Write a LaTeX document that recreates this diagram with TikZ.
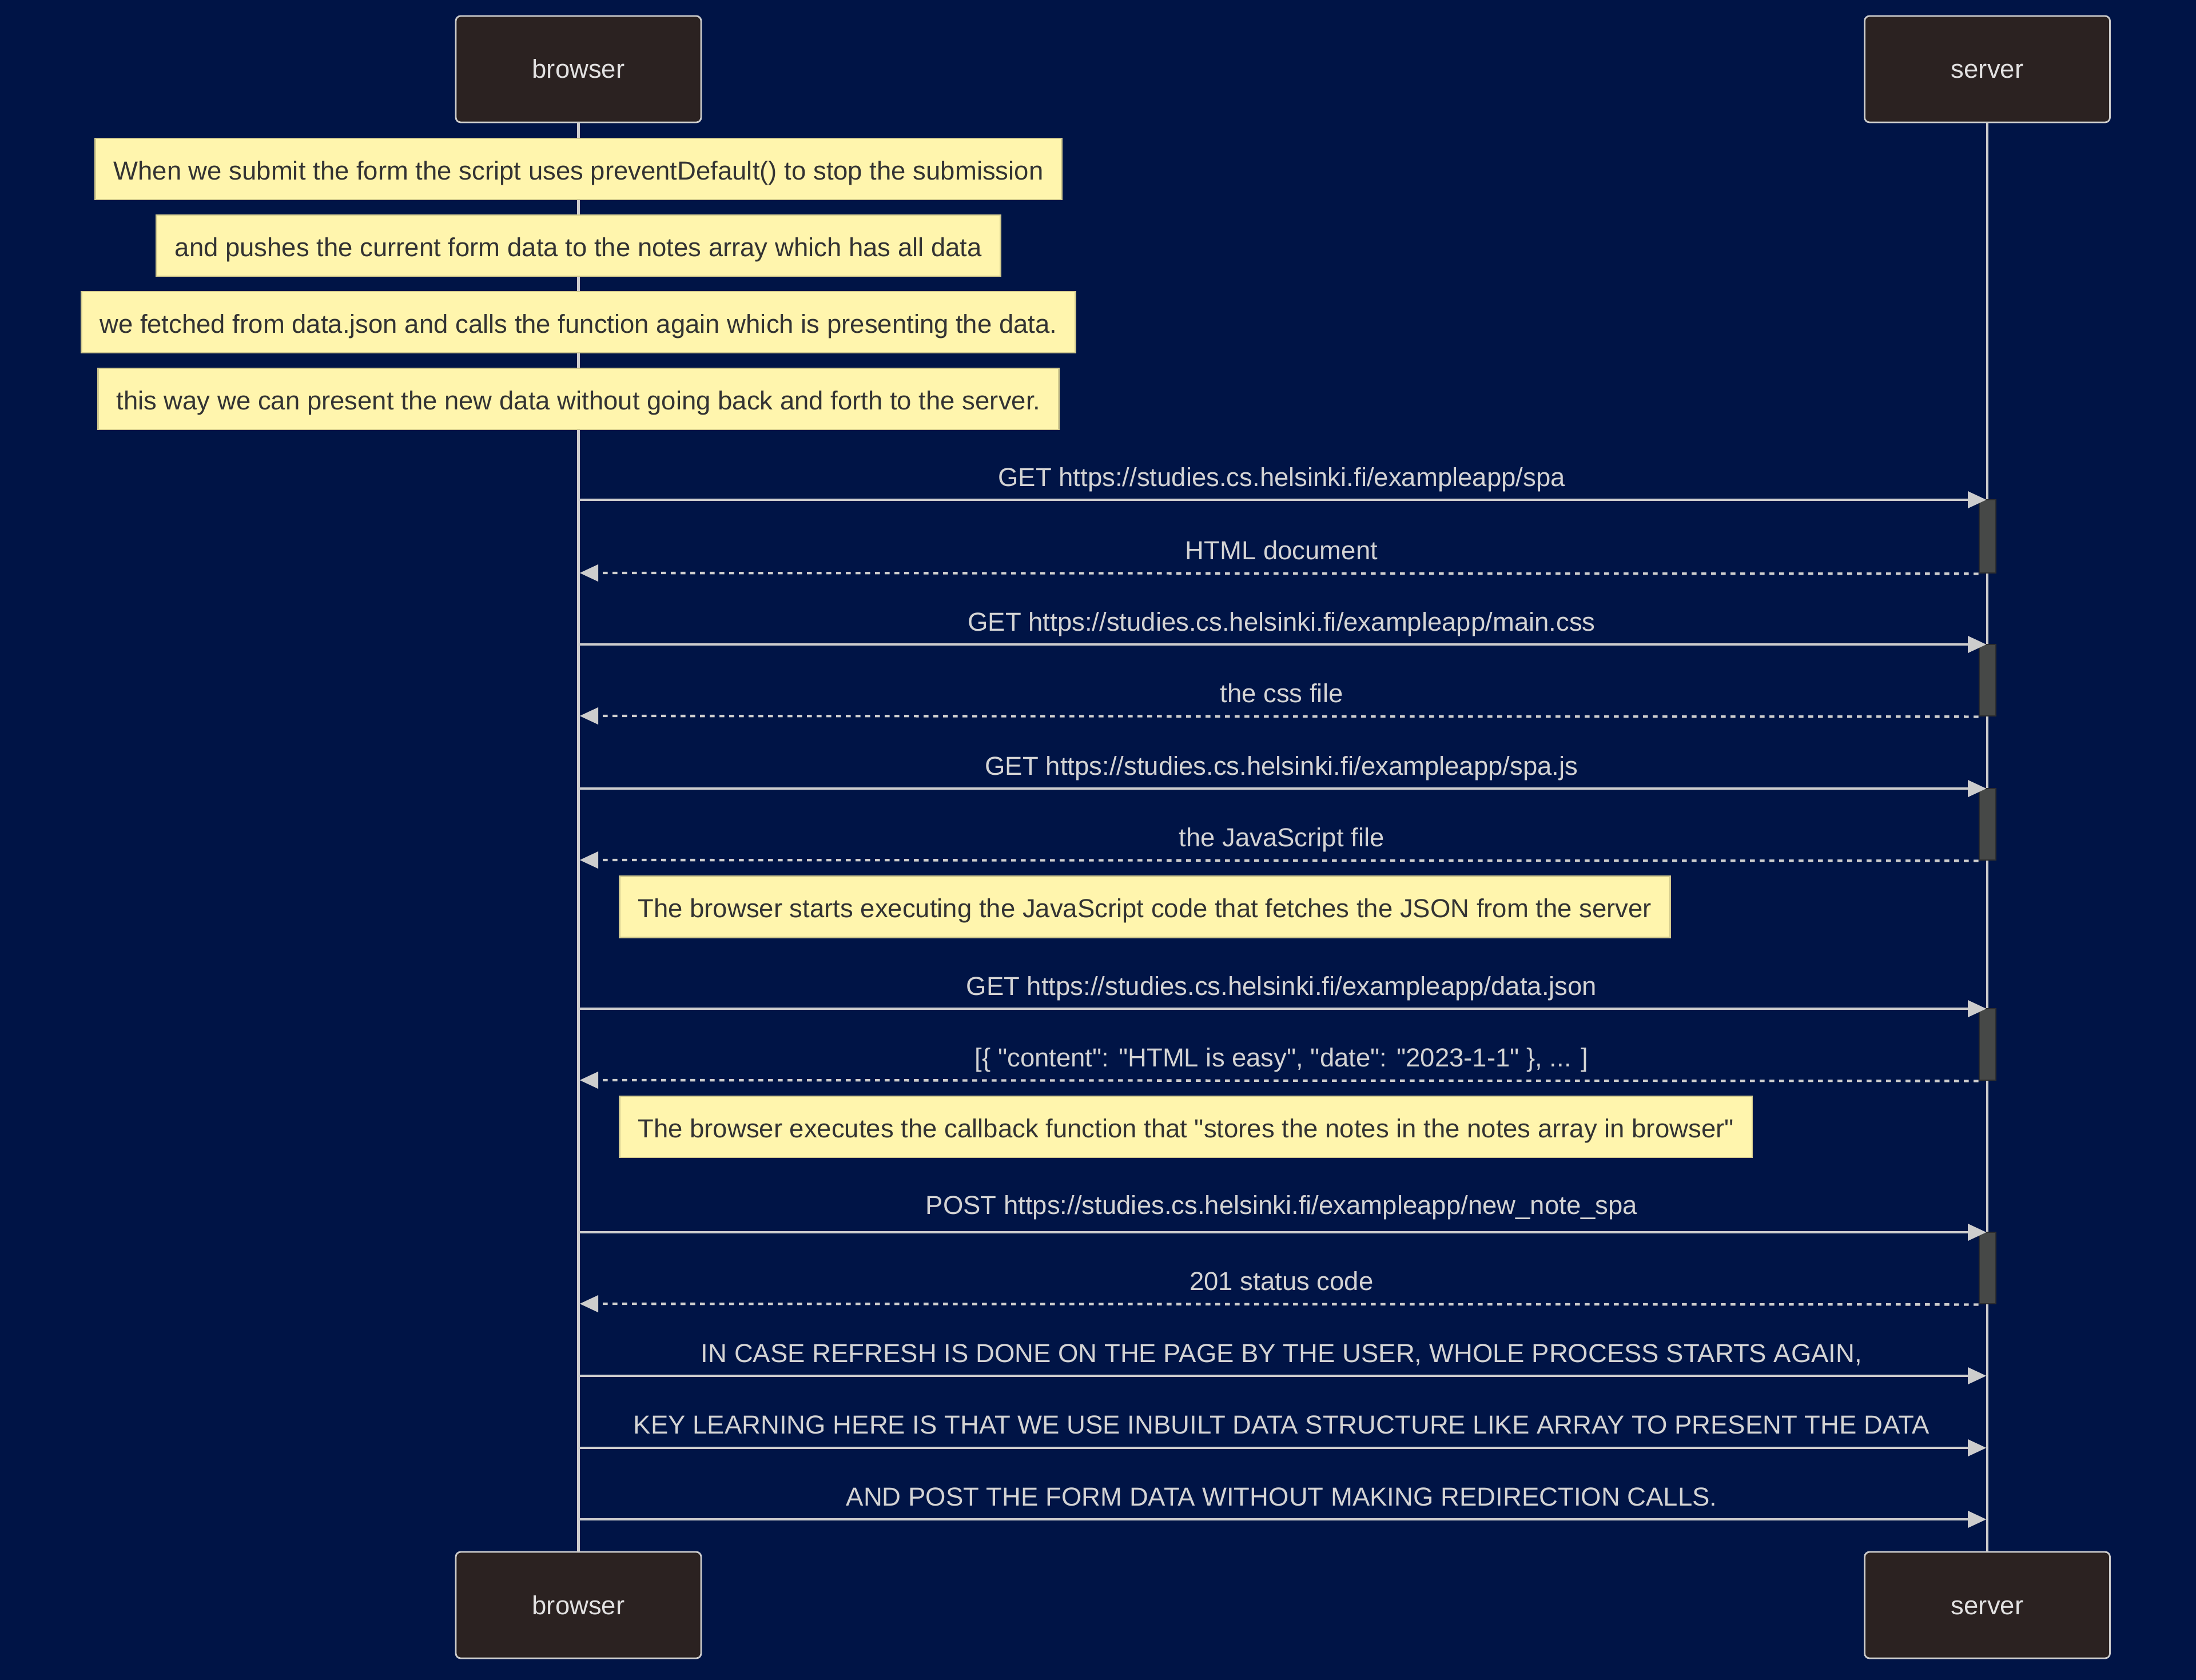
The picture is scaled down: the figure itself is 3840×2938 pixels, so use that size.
\documentclass[tikz,border=0pt]{standalone}
\usepackage{fontspec}
\newfontfamily\lsans{Liberation Sans}[Ligatures=NoCommon]
\usetikzlibrary{arrows.meta}
\definecolor{bgc}{HTML}{001446}
\definecolor{actfill}{HTML}{2B2221}
\definecolor{actline}{HTML}{CCCCCC}
\definecolor{acttext}{HTML}{E2E1E1}
\definecolor{msgline}{HTML}{CDCDCD}
\definecolor{msgtext}{HTML}{D4D4D4}
\definecolor{notefill}{HTML}{FFF5AD}
\definecolor{noteline}{HTML}{D2CA8E}
\definecolor{notetext}{HTML}{333333}
\definecolor{barfill}{HTML}{464847}
\definecolor{barline}{HTML}{2E2E2E}
\newcommand{\dfont}{\lsans\fontsize{45.5}{54}\selectfont}
\tikzset{
  actorbox/.style={draw=actline, fill=actfill, line width=2.8pt, rounded corners=8.6pt,
    minimum width=429pt, minimum height=186pt, inner sep=0pt, text=acttext, font=\dfont,
    text height=38pt, text depth=6pt},
  lifeline/.style={draw=msgline, line width=4.5pt},
  notebox/.style={draw=noteline, fill=notefill, line width=2.8pt, inner xsep=32pt, inner ysep=0pt,
    minimum height=107pt, text=notetext, font=\dfont, text height=43pt, text depth=6pt},
  actbar/.style={draw=barline, fill=barfill, line width=2.8pt, minimum width=29pt, inner sep=0pt},
  msg/.style={draw=msgline, line width=4.3pt, -{Triangle[length=32pt,width=30pt,line width=0.1pt]}},
  reply/.style={msg, dash pattern=on 8.5pt off 8.5pt},
  msglabel/.style={anchor=base, inner sep=0pt, text=msgtext, font=\dfont}
}
\begin{document}
\begin{tikzpicture}[x=1pt,y=-1pt]
\fill[bgc] (0,0) rectangle (3840,2938);
\useasboundingbox (0,0) rectangle (3840,2938);

% actors
\node[actorbox] (bt) at (1011.5,121) {browser};
\node[actorbox] (st) at (3475,121) {server};
\node[actorbox] (bb) at (1011.5,2807) {browser};
\node[actorbox] (sb) at (3475,2807) {server};

% lifelines
\draw[lifeline] (bt.south) -- (bb.north);
\draw[lifeline] (st.south) -- (sb.north);

% top notes
\node[notebox] (n1) at (1011.5,295.5) {When we submit the form the script uses preventDefault() to stop the submission};
\node[notebox] (n2) at (1011.5,429.5) {and pushes the current form data to the notes array which has all data};
\node[notebox] (n3) at (1011.5,563.5) {we fetched from data.json and calls the function again which is presenting the data.};
\node[notebox] (n4) at (1011.5,697.5) {this way we can present the new data without going back and forth to the server.};

% activation bars
\node[actbar, minimum height=128pt] (a1) at (3475.5,938) {};
\node[actbar, minimum height=125pt] (a2) at (3475.5,1189.5) {};
\node[actbar, minimum height=125pt] (a3) at (3475.5,1441.5) {};
\node[actbar, minimum height=125pt] (a4) at (3475.5,1826.5) {};
\node[actbar, minimum height=125pt] (a5) at (3475.5,2217.5) {};

% endpoint coordinates
\coordinate (b1) at (1011.5,874);   \coordinate (s1) at (3473,874);
\coordinate (b2) at (1014,1002);
\coordinate (b3) at (1011.5,1127);  \coordinate (s3) at (3473,1127);
\coordinate (b4) at (1014,1252);
\coordinate (b5) at (1011.5,1379);  \coordinate (s5) at (3473,1379);
\coordinate (b6) at (1014,1504);
\coordinate (b7) at (1011.5,1764);  \coordinate (s7) at (3473,1764);
\coordinate (b8) at (1014,1889);
\coordinate (b9) at (1011.5,2155);  \coordinate (s9) at (3473,2155);
\coordinate (b10) at (1014,2280);
\coordinate (b11) at (1011.5,2406); \coordinate (s11) at (3473,2406);
\coordinate (b12) at (1011.5,2532); \coordinate (s12) at (3473,2532);
\coordinate (b13) at (1011.5,2657); \coordinate (s13) at (3473,2657);

% messages
\draw[msg] (b1) -- (s1);
\node[msglabel] (l1) at (2241,850) {GET https://studies.cs.helsinki.fi/exampleapp/spa};
\draw[reply] (a1.south west) -- (b2);
\node[msglabel] (l2) at (2241,978) {HTML document};
\draw[msg] (b3) -- (s3);
\node[msglabel] (l3) at (2241,1103) {GET https://studies.cs.helsinki.fi/exampleapp/main.css};
\draw[reply] (a2.south west) -- (b4);
\node[msglabel] (l4) at (2241,1228) {the css file};
\draw[msg] (b5) -- (s5);
\node[msglabel] (l5) at (2241,1355) {GET https://studies.cs.helsinki.fi/exampleapp/spa.js};
\draw[reply] (a3.south west) -- (b6);
\node[msglabel] (l6) at (2241,1480) {the JavaScript file};

\node[notebox, anchor=west] (n5) at (1082,1586) {The browser starts executing the JavaScript code that fetches the JSON from the server};

\draw[msg] (b7) -- (s7);
\node[msglabel] (l7) at (2241,1740) {GET https://studies.cs.helsinki.fi/exampleapp/data.json};
\draw[reply] (a4.south west) -- (b8);
\node[msglabel] (l8) at (2241,1865) {[\{ "content": "HTML is easy", "date": "2023-1-1" \}, ... ]};

\node[notebox, anchor=west] (n6) at (1082,1970.5) {The browser executes the callback function that "stores the notes in the notes array in browser"};

\draw[msg] (b9) -- (s9);
\node[msglabel] (l9) at (2241,2123) {POST https://studies.cs.helsinki.fi/exampleapp/new\_note\_spa};
\draw[reply] (a5.south west) -- (b10);
\node[msglabel] (l10) at (2241,2256) {201 status code};
\draw[msg] (b11) -- (s11);
\node[msglabel] (l11) at (2241,2382) {IN CASE REFRESH IS DONE ON THE PAGE BY THE USER, WHOLE PROCESS STARTS AGAIN,};
\draw[msg] (b12) -- (s12);
\node[msglabel] (l12) at (2241,2507) {KEY LEARNING HERE IS THAT WE USE INBUILT DATA STRUCTURE LIKE ARRAY TO PRESENT THE DATA};
\draw[msg] (b13) -- (s13);
\node[msglabel] (l13) at (2241,2633) {AND POST THE FORM DATA WITHOUT MAKING REDIRECTION CALLS.};
\end{tikzpicture}
\end{document}
